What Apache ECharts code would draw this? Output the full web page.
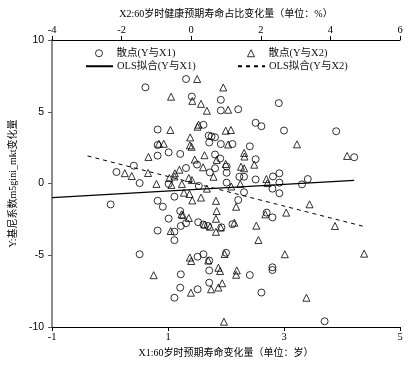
<!DOCTYPE html>
<html>
<head>
<meta charset="utf-8">
<script src="https://cdn.jsdelivr.net/npm/echarts@6/dist/echarts.min.js"></script>
<style>html,body{margin:0;padding:0;background:#fff}#c{width:415px;height:365px}</style>
</head>
<body>
<div id="c"></div>
<script>
// Scatter Y vs X1 (circles)
const x1Values = [0.61,1.31,1.41,1.91,1.91,2.21,2.91,0.82,1.61,1.70,1.75,1.81,1.71,1.91,2.11,0.82,0.82,1.01,1.21,1.81,1.90,2.51,2.61,3.00,3.90,2.41,2.51,4.21,0.41,0.11,1.31,1.50,1.72,1.81,2.01,2.01,2.23,2.31,0.51,1.01,1.53,2.01,2.51,2.92,2.81,2.92,2.80,2.92,3.31,3.41,2.31,2.21,0.01,0.82,0.91,1.11,1.21,1.01,1.22,1.31,0.82,1.11,1.11,1.52,1.61,1.69,1.92,2.11,2.70,2.80,0.51,1.51,1.61,1.71,2.00,1.22,1.71,2.41,2.80,2.80,1.21,1.51,1.71,1.11,2.61,3.70];
const y1Values = [6.70,7.28,6.06,5.83,5.09,5.17,5.60,3.76,4.09,3.34,3.28,3.22,2.86,2.75,2.75,2.68,1.94,2.17,2.06,2.02,1.74,4.23,3.99,3.69,3.64,2.59,1.69,1.83,1.24,0.80,1.08,1.32,0.77,1.06,1.18,0.75,0.47,0.47,0.03,-0.03,-0.17,0.06,0.28,0.71,0.49,0.06,-0.36,-0.68,-0.06,0.31,-0.61,-1.15,-1.46,-1.20,-1.62,-0.92,-1.92,-2.45,-2.96,-2.77,-3.28,-3.36,-3.95,-2.70,-2.86,-2.96,-3.05,-2.84,-2.03,-2.36,-4.93,-5.10,-4.93,-5.37,-4.83,-6.33,-6.06,-6.38,-5.84,-6.03,-7.26,-7.37,-6.91,-7.96,-7.60,-9.60];
// Scatter Y vs X2 (triangles)
const x2Values = [0.17,0.92,-0.58,0.03,0.28,0.45,1.06,-0.60,0.21,0.18,0.99,1.14,-0.03,-0.93,-0.79,-0.04,0.01,1.06,3.04,-1.23,0.38,0.10,0.73,1.52,1.53,4.48,-1.24,-1.91,-1.71,-0.47,-0.34,-0.48,-0.63,-0.07,0.02,0.34,0.64,0.99,1.81,1.43,1.52,2.16,2.19,1.41,1.15,0.45,-1.00,-0.57,-0.27,-0.21,-0.05,0.03,0.28,0.71,0.73,0.71,0.71,-0.28,-0.24,-0.07,-0.59,0.38,0.54,0.85,1.29,1.24,2.73,2.13,3.40,1.87,1.93,4.13,2.69,4.97,0.96,-1.08,-0.04,0.00,0.49,0.78,0.83,1.31,1.29,-0.01,0.57,0.78,0.89,3.31,0.94];
const y2Values = [7.28,6.69,6.05,5.76,5.55,5.07,5.14,3.73,4.10,3.96,3.68,3.73,3.21,2.77,2.77,2.66,2.56,2.72,2.73,1.85,1.97,1.67,1.64,2.13,1.88,1.92,0.73,0.72,0.52,0.71,0.96,0.49,0.38,0.38,0.24,1.13,0.47,1.36,1.31,1.17,1.06,0.31,0.03,-0.03,-0.21,-0.36,-0.03,-0.10,-0.03,-0.64,-0.73,-1.18,-0.98,-1.21,-1.92,-2.46,-3.37,-2.15,-2.20,-2.40,-3.31,-2.86,-3.01,-3.07,-1.62,-2.73,-2.03,-2.15,-1.45,-2.94,-3.94,-2.96,-4.93,-4.89,-4.91,-6.39,-5.16,-5.40,-5.37,-5.87,-6.10,-6.06,-6.36,-7.61,-7.37,-7.25,-6.95,-7.96,-9.63];
// OLS fitted line endpoints
const ols1X = [-1, 4.21];
const ols1Y = [-0.99, 0.22];
const ols2X = [-2.98, 4.99];
const ols2Y = [1.92, -3.01];
// Axis ticks
const x1Ticks = {min: -1, max: 5, interval: 2};
const x2Ticks = {min: -4, max: 6, interval: 2};
const yTicks = {min: -10, max: 10, interval: 5};
const names = {
  s1: '散点(Y与X1)', s2: '散点(Y与X2)', l1: 'OLS拟合(Y与X1)', l2: 'OLS拟合(Y与X2)',
  x1: 'X1:60岁时预期寿命变化量（单位：岁）',
  x2: 'X2:60岁时健康预期寿命占比变化量（单位：%）',
  y: 'Y:基尼系数m5gini_mkt变化量'
};

const zip = (a, b) => a.map((v, i) => [v, b[i]]);
const serif = "'Liberation Serif', 'Noto Sans CJK SC', serif";
const sans = "'Liberation Sans', 'Noto Sans CJK SC', sans-serif";
const hollow = {color: 'rgba(0,0,0,0)', borderColor: '#000', borderWidth: 1};

const legendText = {fontFamily: serif, fontSize: 10.5, color: '#111'};
const symLegend = {padding: 0, itemWidth: 7, itemHeight: 7, selectedMode: false,
  itemStyle: {color: 'rgba(0,0,0,0)', borderColor: '#000', borderWidth: 1},
  textStyle: Object.assign({}, legendText, {padding: [0, 0, 0, 9]})};
const lineLegend = {padding: 0, itemWidth: 27, itemHeight: 7, selectedMode: false,
  itemStyle: {color: 'rgba(0,0,0,0)', borderColor: 'rgba(0,0,0,0)', borderWidth: 0, opacity: 0},
  textStyle: Object.assign({}, legendText, {padding: [0, 0, 0, -1]})};

const chart = echarts.init(document.getElementById('c'), null, {renderer: 'canvas'});
chart.setOption({
  animation: false,
  backgroundColor: '#fff',
  grid: {left: 43, right: 15, top: 40, bottom: 38, containLabel: false},
  legend: [
    Object.assign({}, symLegend, {data: [names.s1], left: 95, top: 48}),
    Object.assign({}, symLegend, {data: [names.s2], left: 247, top: 48}),
    Object.assign({}, lineLegend, {data: [names.l1], left: 85, top: 61}),
    Object.assign({}, lineLegend, {data: [names.l2], left: 237, top: 61})
  ],
  xAxis: [
    {type: 'value', position: 'bottom', min: x1Ticks.min, max: x1Ticks.max, interval: x1Ticks.interval,
     name: names.x1, nameLocation: 'middle', nameGap: 21,
     nameTextStyle: {fontFamily: serif, fontSize: 10, color: '#000'},
     axisLine: {show: true, onZero: false, lineStyle: {color: '#000', width: 1}},
     axisTick: {show: true, inside: false, length: 4, lineStyle: {color: '#000'}},
     axisLabel: {fontFamily: serif, fontSize: 10.5, color: '#000', margin: 5},
     splitLine: {show: false}},
    {type: 'value', position: 'top', min: x2Ticks.min, max: x2Ticks.max, interval: x2Ticks.interval,
     name: names.x2, nameLocation: 'middle', nameGap: 16,
     nameTextStyle: {fontFamily: serif, fontSize: 10, color: '#000'},
     axisLine: {show: true, onZero: false, lineStyle: {color: '#000', width: 1}},
     axisTick: {show: true, inside: false, length: 4, lineStyle: {color: '#000'}},
     axisLabel: {fontFamily: serif, fontSize: 10.5, color: '#000', margin: 5},
     splitLine: {show: false}},
  ],
  yAxis: {type: 'value', min: yTicks.min, max: yTicks.max, interval: yTicks.interval,
     name: names.y, nameLocation: 'middle', nameGap: 27, nameRotate: 90,
     nameTextStyle: {fontFamily: serif, fontSize: 10, color: '#000'},
     axisLine: {show: true, onZero: false, lineStyle: {color: '#8c8c8c', width: 2}},
     axisTick: {show: true, inside: false, length: 4, lineStyle: {color: '#555', width: 1}},
     axisLabel: {fontFamily: sans, fontSize: 10.5, color: '#000', margin: 8},
     splitLine: {show: false}},
  series: [
    {name: names.s1, type: 'scatter', xAxisIndex: 0, symbol: 'circle', symbolSize: 7,
     itemStyle: hollow, data: zip(x1Values, y1Values)},
    {name: names.s2, type: 'scatter', xAxisIndex: 1, symbol: 'triangle', symbolSize: 7,
     itemStyle: hollow, data: zip(x2Values, y2Values)},
    {name: names.l1, type: 'line', xAxisIndex: 0, symbol: 'none', showSymbol: false,
     lineStyle: {color: '#000', width: 1.2, type: 'solid'}, itemStyle: {color: '#000'},
     data: zip(ols1X, ols1Y)},
    {name: names.l2, type: 'line', xAxisIndex: 1, symbol: 'none', showSymbol: false,
     lineStyle: {color: '#000', width: 1, type: [4, 4]}, itemStyle: {color: '#000'},
     data: zip(ols2X, ols2Y)}
  ]
});
</script>
</body>
</html>
